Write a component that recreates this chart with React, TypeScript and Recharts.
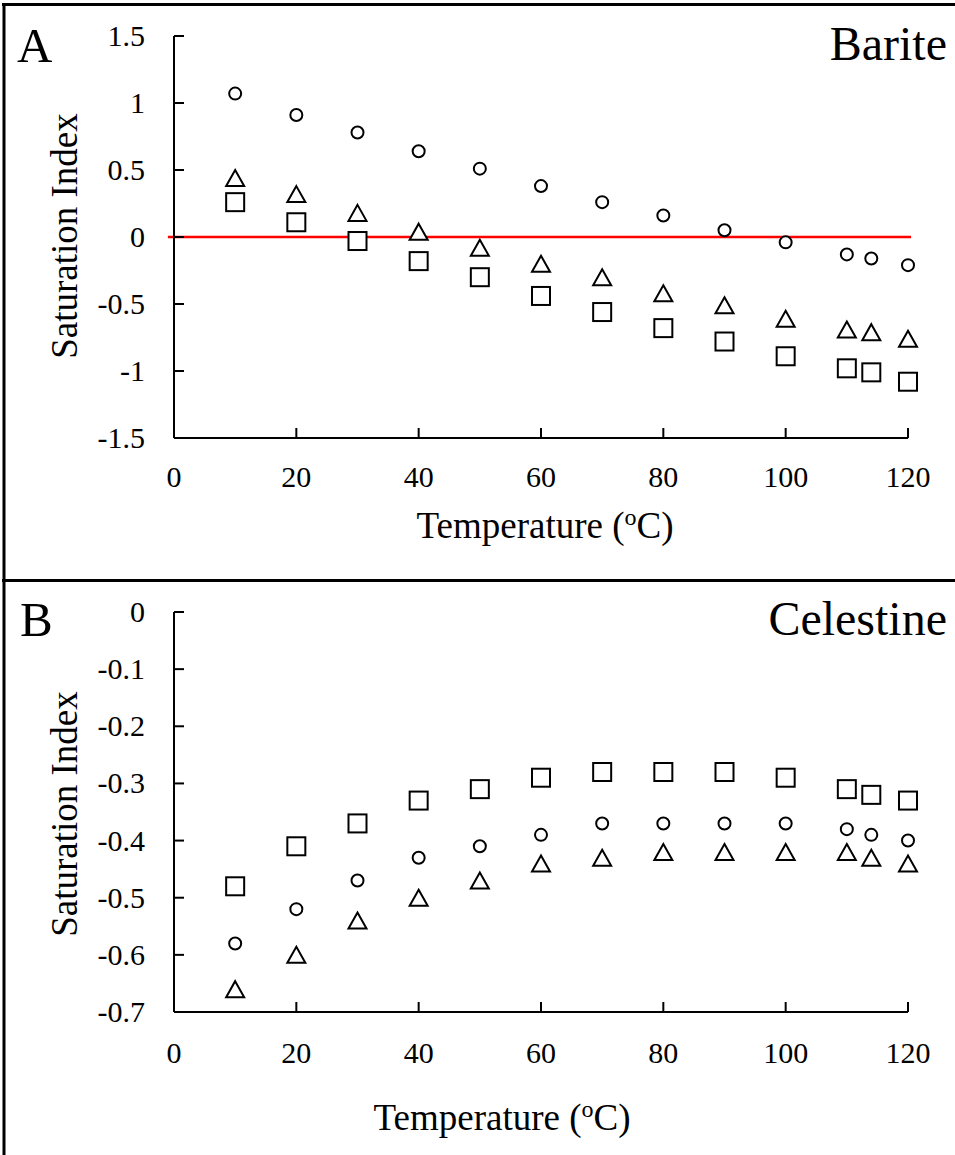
import React from 'react';
import { ScatterChart, Scatter, XAxis, YAxis, ReferenceLine } from 'recharts';

const temps = [10, 20, 30, 40, 50, 60, 70, 80, 90, 100, 110, 114, 120];
const xTicks = [0, 20, 40, 60, 80, 100, 120];

// Panel A: Barite
const bariteCircle = [1.07, 0.91, 0.78, 0.64, 0.51, 0.38, 0.26, 0.16, 0.05, -0.04, -0.13, -0.16, -0.21];
const bariteTriangle = [0.44, 0.32, 0.18, 0.04, -0.08, -0.2, -0.3, -0.42, -0.51, -0.61, -0.69, -0.71, -0.76];
const bariteSquare = [0.26, 0.11, -0.03, -0.18, -0.3, -0.44, -0.56, -0.68, -0.78, -0.89, -0.98, -1.01, -1.08];
const bariteYTicks = [-1.5, -1, -0.5, 0, 0.5, 1, 1.5];

// Panel B: Celestine
const celestineSquare = [-0.48, -0.41, -0.37, -0.33, -0.31, -0.29, -0.28, -0.28, -0.28, -0.29, -0.31, -0.32, -0.33];
const celestineCircle = [-0.58, -0.52, -0.47, -0.43, -0.41, -0.39, -0.37, -0.37, -0.37, -0.37, -0.38, -0.39, -0.4];
const celestineTriangle = [-0.66, -0.6, -0.54, -0.5, -0.47, -0.44, -0.43, -0.42, -0.42, -0.42, -0.42, -0.43, -0.44];
const celestineYTicks = [-0.7, -0.6, -0.5, -0.4, -0.3, -0.2, -0.1, 0];

const FONT = "'Liberation Serif', 'Times New Roman', serif";
const textStyle = { fontFamily: FONT };

const toPts = (vals: number[]) => temps.map((t, i) => ({ x: t, y: vals[i] }));

const CircleShape = (p: any) => (
  <circle cx={p.cx} cy={p.cy} r={6} fill="#fff" stroke="#000" strokeWidth={2} />
);
const SquareShape = (p: any) => (
  <rect x={p.cx - 9} y={p.cy - 9} width={18} height={18} fill="#fff" stroke="#000" strokeWidth={2} />
);
const TriangleShape = (p: any) => (
  <path
    d={`M${p.cx},${p.cy - 8} L${p.cx + 9},${p.cy + 8} L${p.cx - 9},${p.cy + 8} Z`}
    fill="#fff"
    stroke="#000"
    strokeWidth={2}
    strokeLinejoin="miter"
  />
);

const makeXTick = (offset: number) => (props: any) => {
  const { x, y, payload } = props;
  return (
    <g>
      <line x1={x} y1={y} x2={x} y2={y - 10} stroke="#000" strokeWidth={2} />
      <text x={x} y={y + offset} textAnchor="middle" style={textStyle} fontSize={30} fill="#000">
        {String(payload.value)}
      </text>
    </g>
  );
};

const YTick = (props: any) => {
  const { x, y, payload } = props;
  return (
    <g>
      <line x1={x} y1={y} x2={x + 10} y2={y} stroke="#000" strokeWidth={2} />
      <text x={x - 29} y={y + 10} textAnchor="end" style={textStyle} fontSize={30} fill="#000">
        {String(payload.value)}
      </text>
    </g>
  );
};

const axisLine = { stroke: '#000', strokeWidth: 2 };

export default function App() {
  return (
    <div
      style={{
        position: 'absolute',
        left: 0,
        top: 0,
        width: 955,
        height: 1155,
        overflow: 'hidden',
        background: '#fff',
        fontFamily: FONT,
      }}
    >
      <div style={{ position: 'absolute', left: 0, top: 0 }}>
        <ScatterChart width={955} height={579} margin={{ top: 36, right: 47, left: 0, bottom: 41 }} style={textStyle}>
          <XAxis
            type="number"
            dataKey="x"
            domain={[0, 120]}
            ticks={xTicks}
            height={100}
            tickSize={0}
            tickMargin={0}
            tickLine={false}
            axisLine={axisLine}
            tick={makeXTick(49)}
            interval={0}
          />
          <YAxis
            type="number"
            dataKey="y"
            domain={[-1.5, 1.5]}
            ticks={bariteYTicks}
            width={174}
            tickSize={0}
            tickMargin={0}
            tickLine={false}
            axisLine={axisLine}
            tick={YTick}
            interval={0}
          />
          <Scatter data={toPts(bariteCircle)} shape={CircleShape} isAnimationActive={false} />
          <Scatter data={toPts(bariteTriangle)} shape={TriangleShape} isAnimationActive={false} />
          <Scatter data={toPts(bariteSquare)} shape={SquareShape} isAnimationActive={false} />
          <ReferenceLine
            segment={[{ x: -1, y: 0 }, { x: 120.5, y: 0 }]}
            stroke="#ff0000"
            strokeWidth={2.5}
            ifOverflow="visible"
          />
        </ScatterChart>
      </div>
      <div style={{ position: 'absolute', left: 0, top: 580 }}>
        <ScatterChart width={955} height={575} margin={{ top: 32, right: 47, left: 0, bottom: 43 }} style={textStyle}>
          <XAxis
            type="number"
            dataKey="x"
            domain={[0, 120]}
            ticks={xTicks}
            height={100}
            tickSize={0}
            tickMargin={0}
            tickLine={false}
            axisLine={axisLine}
            tick={makeXTick(51)}
            interval={0}
          />
          <YAxis
            type="number"
            dataKey="y"
            domain={[-0.7, 0]}
            ticks={celestineYTicks}
            width={174}
            tickSize={0}
            tickMargin={0}
            tickLine={false}
            axisLine={axisLine}
            tick={YTick}
            interval={0}
          />
          <Scatter data={toPts(celestineSquare)} shape={SquareShape} isAnimationActive={false} />
          <Scatter data={toPts(celestineCircle)} shape={CircleShape} isAnimationActive={false} />
          <Scatter data={toPts(celestineTriangle)} shape={TriangleShape} isAnimationActive={false} />
        </ScatterChart>
      </div>
      <svg
        width={955}
        height={1155}
        style={{ position: 'absolute', left: 0, top: 0, pointerEvents: 'none', fontFamily: FONT }}
      >
        <line x1={2} y1={4.5} x2={955} y2={4.5} stroke="#000" strokeWidth={3} />
        <line x1={4} y1={3} x2={4} y2={1155} stroke="#000" strokeWidth={3} />
        <line x1={2} y1={580.5} x2={955} y2={580.5} stroke="#000" strokeWidth={3} />

        <text x={17} y={62} style={textStyle} fontSize={49} fill="#000">A</text>
        <text x={947} y={60} textAnchor="end" style={textStyle} fontSize={48} fill="#000">Barite</text>
        <text x={20} y={636} style={textStyle} fontSize={49} fill="#000">B</text>
        <text x={947} y={635} textAnchor="end" style={textStyle} fontSize={48} fill="#000">Celestine</text>

        <text x={545} y={538} textAnchor="middle" style={textStyle} fontSize={37} fill="#000">
          Temperature (<tspan fontSize={24} dy={-13}>o</tspan><tspan dy={13}>C)</tspan>
        </text>
        <text x={502} y={1130} textAnchor="middle" style={textStyle} fontSize={37} fill="#000">
          Temperature (<tspan fontSize={24} dy={-13}>o</tspan><tspan dy={13}>C)</tspan>
        </text>

        <text x={77} y={236} textAnchor="middle" transform="rotate(-90 77 236)" style={textStyle} fontSize={37} fill="#000">
          Saturation Index
        </text>
        <text x={77} y={814} textAnchor="middle" transform="rotate(-90 77 814)" style={textStyle} fontSize={37} fill="#000">
          Saturation Index
        </text>
      </svg>
    </div>
  );
}
